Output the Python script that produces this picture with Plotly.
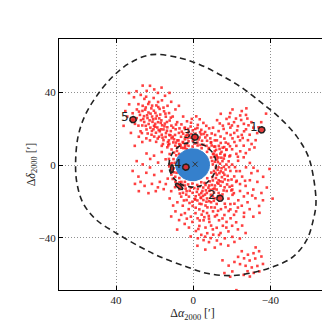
import numpy as np
import plotly.graph_objects as go

# member stars, offsets in arcmin (grouped by region)
ne_arm = [(22.4,43.6),(24.1,40.8),(18.3,39.7),(27.2,38.6),(14.6,38.1),(20.5,36.9),(30.7,37.3),(16.2,35.6),(25.3,36.4),(11.4,34.8),
          (22.8,34.7),(28.4,33.5),(19.1,32.8),(33.2,33.4),(13.3,32.6),(24.6,31.7),(17.4,30.9),(29.2,30.6),(21.7,31.2),(9.2,30.6),
          (26.3,29.8),(15.1,29.6),(19.6,28.7),(31.4,28.5),(23.2,28.9),(12.5,28.6),(27.6,27.6),(17.1,27.8),(21.3,26.7),(25.5,26.9),
          (14.2,26.6),(10.6,26.7),(29.3,25.8),(19.4,25.6),(23.7,25.9),(16.5,24.6),(27.1,24.7),(12.2,24.5),(21.1,23.8),(18.2,23.6),
          (25.4,23.7),(8.3,23.6),(14.7,22.8),(23.1,22.6),(30.2,22.7),(20.3,21.6),(16.1,21.9),(11.3,21.7),(26.4,21.8),(18.6,20.7),
          (22.2,20.6),(13.4,20.8),(9.1,19.7),(20.6,19.7),(24.2,19.6),(15.4,19.6),(17.3,18.6),(11.6,18.7),(21.4,18.8),(27.3,18.6),
          (7.4,17.7),(14.1,17.6),(19.3,17.8),(23.6,17.4),(12.4,16.6),(16.3,16.7),(9.4,16.6),(20.2,15.7),(14.3,15.5),(6.3,15.6),
          (18.4,14.6),(11.2,14.8),(24.3,14.7),(8.2,13.6),(15.4,13.7),(13.1,12.6),(5.4,12.7),(10.3,12.5),(19.2,12.8),(7.2,11.6),
          (12.4,11.7),(16.3,10.6),(4.2,10.6),(9.3,10.7),(6.2,9.6),(13.4,9.8),(3.3,8.7),(11.2,8.6),(8.4,7.8),(33.3,39.6),(35.2,29.7),
          (29.4,40.6),(36.1,21.6),(32.3,17.7),(28.2,15.6),(26.4,12.7),(30.3,10.6),(34.2,26.7),(20.2,41.6),(12.3,39.7),(7.4,32.6),
          (5.2,26.7),(4.3,20.6),(3.2,16.7),(26.2,43.7),(16.4,42.6),(24.4,37.6),(18.2,34.7),(21.3,32.7),(15.4,31.6),(23.3,33.6),
          (26.2,32.6),(17.6,25.7),(22.6,24.6),(19.7,22.7),(24.6,21.6),(13.6,23.7),(16.6,19.7),(10.4,20.6),(21.6,16.7),(17.7,15.6),
          (12.6,13.6),(15.7,11.6),(10.6,15.6),(7.6,13.6),(26.6,17.6),(22.4,13.6),(28.4,21.7),(31.4,24.7),(18.9,27.1),(20.8,25.2),
          (16.8,23.2),(22.1,28.3),(14.9,21.3),(19.8,21.1),(17.9,19.3),(13.6,18.9),(11.8,16.4),(15.9,15.1),(9.9,14.2),(12.9,10.9),
          (8.9,12.4),(6.8,11.1),(5.1,9.4),(23.9,27.4),(25.9,25.4),(20.4,29.9),(18.1,31.9),(28.1,29.4),(24.9,30.5),(14.4,28.3),
          (11.6,26.1),(8.9,22.3),(7.1,20.2),(5.9,18.4)]
nw_group = [(-14.3,28.2),(-19.2,28.6),(-24.4,27.3),(-28.1,25.6),(-12.4,24.7),(-17.3,25.4),(-21.2,23.6),(-26.3,22.7),(-30.2,23.6),
            (-15.4,21.7),(-19.3,20.6),(-23.2,21.4),(-27.4,19.7),(-31.2,20.6),(-13.2,18.7),(-17.4,17.6),(-21.3,17.7),(-25.2,16.6),
            (-29.3,16.7),(-16.2,14.6),(-20.4,14.7),(-24.3,13.6),(-28.4,13.7),(-12.3,13.6),(-18.2,11.7),(-22.4,10.6),(-26.2,10.7),
            (-30.3,11.6),(-15.3,9.6),(-20.2,8.7),(-24.4,7.6),(-11.2,7.7),(-27.3,6.6),(-16.4,5.7),(-13.3,10.6),(-22.2,25.6),
            (-33.2,17.6),(-20.4,30.6),(-25.2,29.7),(-10.3,20.6),(-18.4,22.7),(-23.3,15.6),(-26.4,18.6),(-14.2,15.7),(-19.4,16.6),
            (-29.2,8.6),(-32.4,13.7),(-9.3,12.6),(-21.4,12.7),(-17.3,8.6),(-12.2,4.7),(-35.3,23.6),(-23.2,4.6),(-27.4,27.6),
            (-11.4,16.6),(-15.8,19.9),(-22.8,19.1),(-20.1,21.8),(-16.9,12.4),(-25.7,14.9),(-18.8,26.4),(-13.8,22.9),(-28.7,21.9),
            (-24.9,24.8),(-10.9,10.2),(-14.7,7.3),(-19.1,10.4),(-31.8,9.7),(-33.9,20.8),(-27.6,31.2),(-37.8,28.3)]
core = [(9.4,1.3),(8.6,-4.2),(7.2,-7.1),(4.3,-9.2),(0.4,-10.1),(-4.2,-9.4),(-7.3,-7.2),(-9.4,-4.1),(-10.2,0.4),(-9.3,4.2),
        (-7.2,7.3),(-4.4,9.3),(0.3,10.2),(4.2,9.4),(7.3,6.2),(10.1,-1.8),(-8.6,-8.9),(-10.8,-3.2),(-11.2,1.9),(-10.6,6.1),
        (-2.1,-10.9),(2.6,-10.6),(6.1,-9.2),(-5.9,-9.8),(-8.1,8.9),(-2.3,10.8),(2.4,10.6),(8.8,5.4),(9.9,-3.9),(-6.4,-10.9),
        (-9.9,-6.6),(-11.7,-1.3),(10.2,3.3),(11.4,-2.2),(9.3,-6.4),(12.2,6.1),(8.3,9.7),(5.2,12.3),(2.4,13.1),(-2.2,12.4),
        (-5.3,11.2),(-8.2,9.4),(-10.3,6.2),(-12.4,3.1),(-13.2,-1.2),(-12.3,-5.3),(-10.2,-8.4),(-8.3,-11.2),(-5.2,-12.3),
        (-2.4,-13.1),(1.2,-12.4),(4.3,-11.2),(7.1,-9.4),(-14.3,-3.4),(-15.2,2.2),(-14.1,6.3),(-11.4,10.2),(-7.2,13.4),(-3.3,15.2),
        (1.4,15.1),(4.3,14.2),(-13.2,-8.3),(-11.3,-11.2),(-8.4,-14.1),(-4.2,-15.3),(0.3,-15.2),(3.4,-14.3),(-16.2,-5.3),
        (-15.3,-9.2),(-12.2,-13.4),(-6.1,-16.2),(-1.3,-17.1),(-17.2,0.3),(-16.3,5.2),(-9.2,12.3),(-6.3,15.2),(-10.4,-13.2),
        (-14.2,-11.3),(-3.4,-11.6),(-6.6,-13.8),(-9.7,-10.9),(-11.8,-7.1),(-13.6,-4.4),(-12.8,1.7),(-11.9,8.4),(-4.6,13.4),
        (0.2,13.3),(6.2,-12.3),(9.2,-9.1),(11.3,-5.2),(12.4,-0.7),(12.6,3.4),(-14.9,-6.6),(-13.1,-10.2),(-16.8,-2.4),(-15.9,-0.9),
        (-17.9,-5.9),(-7.9,-12.4),(-4.8,-14.2),(-1.9,-14.7),(-10.8,-15.1),(-12.9,-17.2),(-14.6,4.1),(-13.7,8.9),(-1.2,17.3),
        (2.3,18.2),(-4.2,19.4),(1.3,21.2),(-2.4,22.1),(4.4,20.3),(-6.2,18.2),(3.2,24.1),(-3.4,25.2),(0.2,19.1),(-5.3,23.2),
        (6.1,22.4),(-8.3,20.2),(2.1,16.3),(-7.2,16.4),(5.2,17.3),(-2.2,20.4),(1.1,23.3),(-0.9,15.8),(3.8,16.1),(-1.6,26.8),
        (0.7,25.4),(-4.1,16.9),(-9.6,17.4),(-13.2,-15.3),(-16.3,-12.2),(-18.2,-8.3),(-19.3,-3.2),(-18.4,2.1),(-9.2,-16.3),
        (-5.3,-19.2),(-2.2,-19.4),(-11.3,-18.2),(-15.2,-16.1),(-20.2,-11.3),(-17.4,-14.2),(-7.2,-18.3),(-3.3,-21.2),(0.4,-20.1),
        (2.2,-17.3),(5.3,-15.2),(7.2,-13.3),(9.4,-12.1),(-21.3,-6.2),(-20.2,0.3),(-22.4,-3.3),(-17.2,8.4),(-14.3,12.2),
        (-9.8,2.3),(-10.9,4.6),(-11.6,-4.3),(-12.7,-2.6),(-13.9,0.8),(-14.7,-1.7),(-15.6,-4.1),(-16.4,-7.8),(-14.1,-8.9),
        (-12.5,-9.6),(-11.1,-12.8),(-9.1,-13.6),(-7.1,-15.3),(-5.1,-16.9),(-3.1,-16.2),(-0.6,-12.6),(1.8,-14.1),(3.9,-12.9),
        (5.6,-10.8),(8.1,-10.4),(10.6,-7.6),(10.8,1.1),(11.8,0.9),(9.9,6.9),(6.6,10.8),(3.4,11.6),(-0.8,11.9),(-3.8,11.1),
        (-6.9,10.6),(-9.6,10.8),(-12.1,5.6),(-13.1,4.2),(-15.9,3.6),(-18.6,-1.1),(-19.9,-7.9),(-17.6,-10.6),(-15.8,-13.9),
        (-13.9,-16.9),(-10.2,-17.2),(-8.3,-19.8),(-4.1,-18.1),(-1.1,-18.9),(3.6,-16.2),(6.9,-15.6),(-0.3,14.3),(-2.8,14.1),
        (2.9,14.8),(-5.4,17.1),(-3.6,18.1),(0.9,17.1),(-1.1,19.9),(-6.8,21.6),(2.6,19.9),(-8.9,14.7),(-11.2,13.6),(-16.1,9.9),
        (-18.8,4.8),(-19.8,-13.9),(-22.6,-8.6),(-21.1,-15.4)]
sw_group = [(-22.3,-9.2),(-25.4,-6.3),(-27.2,-11.4),(-24.3,-14.2),(-29.4,-8.3),(-31.2,-13.4),(-26.3,-17.2),(-23.4,-19.3),
            (-28.2,-20.4),(-32.3,-18.2),(-20.4,-16.3),(-30.2,-4.4),(-33.3,-9.2),(-35.4,-15.3),(-34.2,-22.4),(-29.3,-24.2),
            (-25.2,-22.3),(-21.4,-21.2),(-18.3,-18.4),(-24.2,-3.3),(-27.4,-1.2),(-23.3,2.4),(-26.2,4.3),(-29.4,1.2),(-31.3,-1.4),
            (-19.2,5.3),(-22.4,6.2),(-36.3,-6.4),(-38.2,-12.3),(-33.4,-3.2),(-20.3,-13.4),(-26.4,-26.2),(-31.2,-28.3),
            (-22.3,-25.4),(-36.2,-19.3),(-28.3,-15.4),(-16.4,-21.2),(-19.3,-24.3),(-34.4,-26.2),(-24.3,-10.4),(-26.9,-8.6),
            (-21.7,-1.1),(-18.9,-11.9),(-30.6,-16.7),(-39.6,-2.1),(-41.2,-18.4)]
s_arm = [(6.2,-17.3),(3.4,-19.2),(0.3,-22.4),(-3.2,-24.3),(-6.4,-22.2),(-9.3,-20.4),(-12.2,-21.3),(-14.4,-24.2),(-10.3,-25.4),
         (-7.2,-26.3),(-4.4,-27.2),(-1.2,-26.4),(2.3,-24.2),(5.4,-22.3),(8.2,-20.4),(-2.3,-29.2),(-5.4,-30.3),(-8.2,-29.4),
         (-11.3,-28.2),(-13.4,-30.3),(-16.2,-27.4),(-17.3,-31.2),(-15.4,-33.3),(-12.2,-34.4),(-9.3,-33.2),(-6.4,-34.3),
         (-3.2,-33.4),(0.4,-31.2),(3.3,-29.4),(6.2,-27.3),(-19.4,-29.2),(-20.2,-33.3),(-18.3,-36.4),(-14.2,-37.3),(-10.4,-38.2),
         (-7.3,-37.4),(-4.2,-38.3),(-1.4,-36.2),(2.2,-34.3),(-22.3,-31.4),(-23.2,-35.3),(-16.4,-40.2),(-12.3,-41.4),(-8.2,-42.3),
         (-5.4,-41.2),(-11.2,-45.3),(-20.3,-39.4),(-24.2,-40.3),(1.3,-39.2),(4.4,-32.3),(7.3,-30.2),(9.2,-25.4),(10.4,-22.2),
         (-2.2,-44.3),(-14.3,-43.4),(-18.2,-44.2),(-6.3,-46.4),(-9.4,-23.2),(-5.2,-25.3),(-1.3,-23.4),(-8.4,-31.2),(-12.3,-27.4),
         (-15.2,-29.3),(-18.4,-25.2),(-21.2,-27.3),(-3.4,-30.4),(-10.2,-35.3),(-13.4,-38.4),(-6.2,-39.3),(-2.4,-40.2),
         (-17.2,-34.3),(-25.4,-33.2),(-26.3,-28.4),(-23.2,-23.3),(4.3,-26.4),(1.2,-28.3),(-4.3,-21.4),(-11.2,-23.3),(-7.4,-23.2),
         (-19.3,-21.4),(12.2,-18.3),(11.4,-28.2),(8.3,-35.4),(-27.2,-37.3),(-21.4,-42.2),(-0.8,-18.6),(-3.9,-17.8),(-6.9,-20.1),
         (-10.7,-19.6),(1.9,-20.8),(4.8,-19.4),(-8.1,-27.9),(-5.8,-28.6),(-12.9,-25.1),(-16.8,-23.1),(-2.7,-35.1),(-9.1,-40.1)]
e_group = [(14.3,3.2),(18.2,1.4),(22.4,-1.3),(26.2,0.4),(29.3,2.2),(16.4,-3.3),(20.2,-5.4),(24.3,-4.2),(28.4,-6.3),(13.2,-7.4),
           (17.3,-9.2),(21.4,-10.3),(25.2,-11.4),(15.3,-13.2),(19.4,-14.3),(23.2,-15.4),(27.3,-9.2),(12.4,0.3),(20.3,5.2),
           (24.2,6.4),(16.3,7.2),(28.2,-14.3),(31.4,-3.2),(14.2,-10.4),(18.3,-12.2),(11.4,-14.3),(22.3,3.4),(30.2,-10.3)]
far_south = [(-25.2,-47.3),(-28.4,-49.2),(-31.3,-48.4),(-34.2,-47.3),(-26.4,-51.2),(-29.3,-52.4),(-32.2,-51.3),(-35.4,-50.2),
             (-24.3,-54.4),(-27.2,-55.3),(-30.4,-56.2),(-33.3,-55.4),(-28.2,-58.3),(-31.4,-59.2),(-34.3,-58.4),(-26.2,-60.3),
             (-29.4,-61.2),(-36.2,-54.3),(-23.3,-50.4),(-32.4,-45.2),(-22.4,-68.7),(-15.2,-52.3),(-18.4,-55.2),(-20.3,-58.4),
             (-16.2,-59.3),(-21.4,-53.2),(-19.2,-61.3)]

stars = ne_arm + nw_group + core + sw_group + s_arm + e_group + far_south
star_x = [p[0] for p in stars]
star_y = [p[1] for p in stars]

# outer dashed boundary
edge_x = [21.6, 6.9, -3.5, -13.9, -24.2, -34.6, -45.0, -53.7, -59.7, -62.3, -63.7, -62.3, -58.9, -51.9, -41.6, -29.4, -19.0,
          -6.9, 3.5, 17.3, 27.7, 39.8, 50.2, 57.1, 60.3, 61.0, 59.7, 56.3, 50.2, 41.6, 32.9, 21.6]
edge_y = [60.7, 58.9, 55.2, 49.7, 43.3, 35.0, 25.9, 15.8, 4.8, -6.2, -20.9, -30.1, -41.1, -50.3, -55.8, -59.4, -60.7,
          -59.4, -55.8, -50.3, -44.8, -37.4, -30.1, -20.9, -9.9, 1.1, 15.8, 26.8, 37.8, 48.8, 56.1, 60.7]

# cluster core disk and inner dashed circle
core_cx, core_cy, core_r = 0.3, 0.2, 8.8
inner_r = 12.3
centre_x, centre_y = -1.0, 0.5

# small labelled objects
obj_labels = ['1', '2', '3', '4', '5', '', '']
obj_x = [-35.5, -13.9, -0.9, 3.8, 31.2, 7.3, 11.0]
obj_y = [19.4, -18.2, 15.4, -1.1, 25.0, -11.7, -2.0]
obj_a = [1.7, 1.7, 1.7, 1.7, 1.7, 2.4, 0.8]
obj_b = [1.7, 1.7, 1.7, 1.7, 1.7, 1.0, 2.2]
obj_ang = [0, 0, 0, 0, 0, 40, 0]


def ellipse(cx, cy, a, b, ang=0, n=60):
    t = np.linspace(0, 2 * np.pi, n)
    r = np.deg2rad(ang)
    x = cx + a * np.cos(t) * np.cos(r) - b * np.sin(t) * np.sin(r)
    y = cy + a * np.cos(t) * np.sin(r) + b * np.sin(t) * np.cos(r)
    return x, y


fig = go.Figure()

fig.add_trace(go.Scatter(
    x=star_x, y=star_y, mode='markers',
    marker=dict(symbol='square', size=2.6, color='rgba(255,30,30,0.85)', line=dict(width=0)),
    showlegend=False, hoverinfo='skip'
))

dx, dy = ellipse(core_cx, core_cy, core_r, core_r, n=100)
fig.add_trace(go.Scatter(x=dx, y=dy, mode='lines', fill='toself', fillcolor='#3580cc',
                         line=dict(color='#3580cc', width=1), showlegend=False, hoverinfo='skip'))

ix, iy = ellipse(core_cx, core_cy, inner_r, inner_r, n=100)
fig.add_trace(go.Scatter(x=ix, y=iy, mode='lines', line=dict(color='#222222', width=1.6, dash='5px,4px'),
                         showlegend=False, hoverinfo='skip'))

fig.add_trace(go.Scatter(x=[centre_x], y=[centre_y], mode='markers',
                         marker=dict(symbol='x-thin', size=5, line=dict(color='#333333', width=1)),
                         showlegend=False, hoverinfo='skip'))

for lab, cx, cy, a, b, ang in zip(obj_labels, obj_x, obj_y, obj_a, obj_b, obj_ang):
    ex, ey = ellipse(cx, cy, a, b, ang)
    fig.add_trace(go.Scatter(x=ex, y=ey, mode='lines', fill='toself', fillcolor='rgba(230,40,40,0.9)',
                             line=dict(color='#222222', width=1.5), showlegend=False, hoverinfo='skip'))
    if lab:
        fig.add_annotation(x=cx, y=cy, text=lab, showarrow=False, xanchor='right', yanchor='middle',
                           xshift=-2, yshift=3, font=dict(family='DejaVu Sans', size=12, color='#222222'))

fig.add_trace(go.Scatter(x=edge_x, y=edge_y, mode='lines', line=dict(color='#222222', width=1.6, dash='6px,4px',
                         shape='spline', smoothing=1.0), showlegend=False, hoverinfo='skip'))

axis_common = dict(
    showgrid=True, gridcolor='#8f8f8f', griddash='1px,2px', gridwidth=1,
    zeroline=False, showline=True, linecolor='black', linewidth=1, mirror='ticks',
    ticks='inside', ticklen=4, tickcolor='black', automargin=False,
    tickfont=dict(family='Liberation Serif', size=11, color='#222222'),
    tickvals=[-40, 0, 40],
)

fig.update_xaxes(range=[69.6, -68.9], title=dict(text='Δ<i>α</i><sub>2000</sub> [′]', standoff=1,
                 font=dict(family='Liberation Serif', size=12, color='#222222')), **axis_common)
fig.update_yaxes(range=[-68.6, 69.3], title=dict(text='Δ<i>δ</i><sub>2000</sub> [′]', standoff=0,
                 font=dict(family='Liberation Serif', size=12, color='#222222')), **axis_common)

fig.update_layout(
    width=330, height=330,
    margin=dict(l=51, r=12, t=31, b=48),
    plot_bgcolor='white', paper_bgcolor='white',
    showlegend=False,
)

fig.write_html("out.html")
